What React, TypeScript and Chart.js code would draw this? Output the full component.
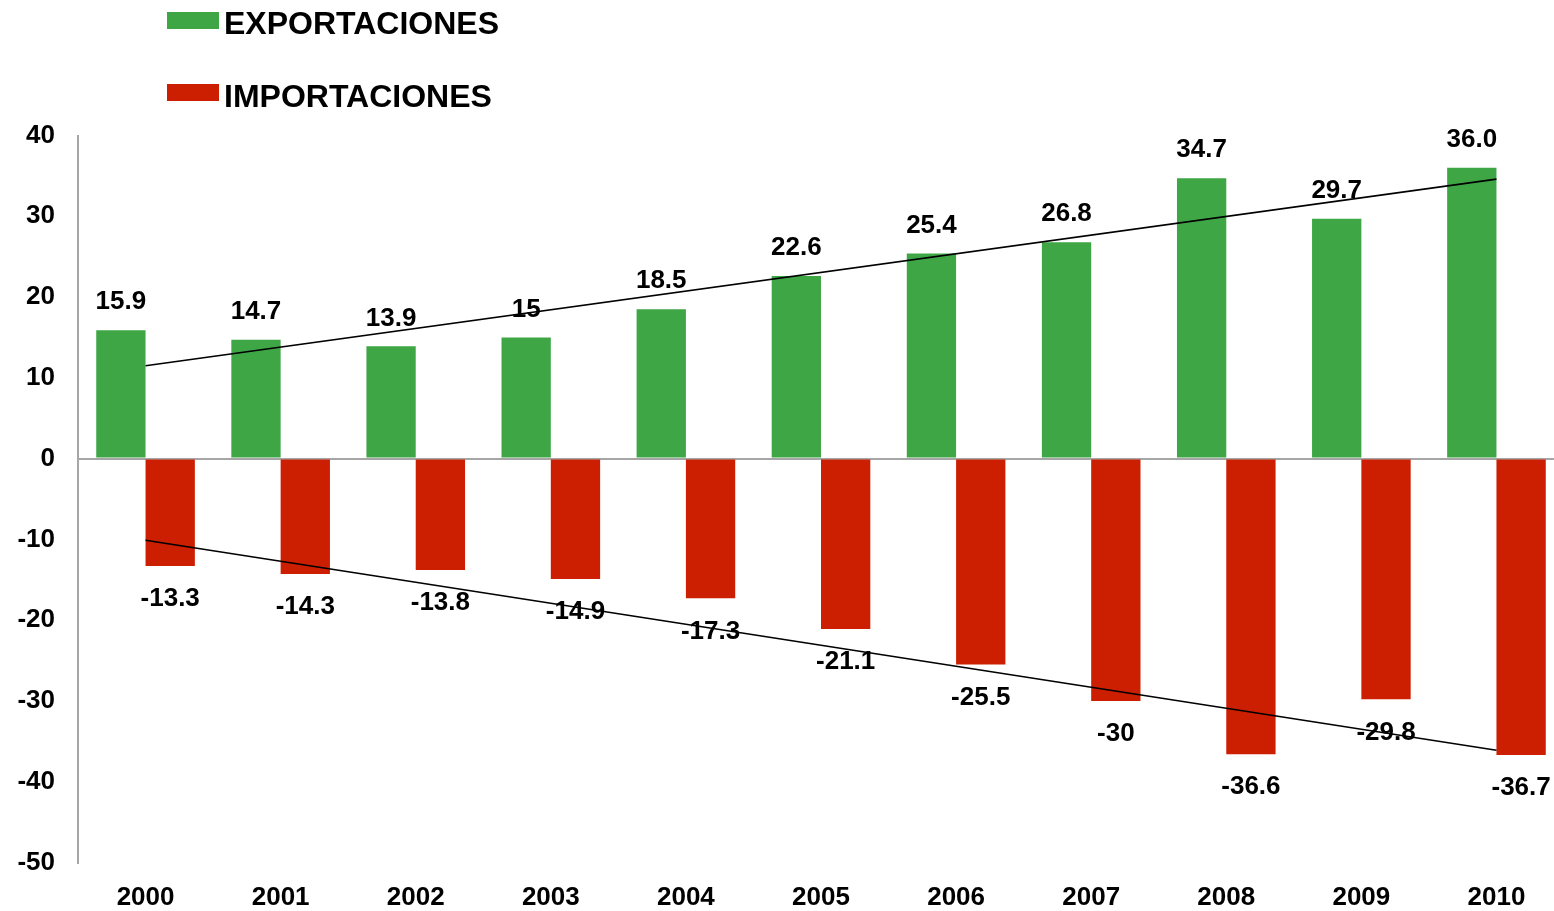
import React, { useEffect, useRef } from "react";
import { Chart, registerables } from "chart.js";

Chart.register(...registerables);

const years = ["2000", "2001", "2002", "2003", "2004", "2005", "2006", "2007", "2008", "2009", "2010"];
const exportaciones = [15.9, 14.7, 13.9, 15, 18.5, 22.6, 25.4, 26.8, 34.7, 29.7, 36.0];
const importaciones = [-13.3, -14.3, -13.8, -14.9, -17.3, -21.1, -25.5, -30, -36.6, -29.8, -36.7];
const exportLabels = ["15.9", "14.7", "13.9", "15", "18.5", "22.6", "25.4", "26.8", "34.7", "29.7", "36.0"];
const importLabels = ["-13.3", "-14.3", "-13.8", "-14.9", "-17.3", "-21.1", "-25.5", "-30", "-36.6", "-29.8", "-36.7"];
// trend line end points
const exportTrend = [11.5, null, null, null, null, null, null, null, null, null, 34.6];
const importTrend = [-10.1, null, null, null, null, null, null, null, null, null, -36.1];
const yMin = -50;
const yMax = 40;
const yStep = 10;

const GREEN = "#3EA645";
const RED = "#CC1E00";
const GRAY = "#A6A6A6";
const FONT = "'Liberation Sans', Arial, sans-serif";

const labelPlugin = {
  id: "barValueLabels",
  afterDatasetsDraw(chart: any) {
    const ctx = chart.ctx;
    ctx.save();
    ctx.font = `bold 26px ${FONT}`;
    ctx.fillStyle = "#000";
    ctx.textAlign = "center";
    ctx.textBaseline = "middle";
    const m0 = chart.getDatasetMeta(0);
    m0.data.forEach((bar: any, i: number) => {
      ctx.fillText(exportLabels[i], bar.x, bar.y - 28);
    });
    const m1 = chart.getDatasetMeta(1);
    m1.data.forEach((bar: any, i: number) => {
      ctx.fillText(importLabels[i], bar.x, bar.y + 33);
    });
    ctx.restore();
  },
};

export default function App() {
  const ref = useRef<HTMLCanvasElement | null>(null);

  useEffect(() => {
    if (!ref.current) return;
    const chart = new Chart(ref.current, {
      type: "bar",
      data: {
        labels: years,
        datasets: [
          {
            type: "bar",
            label: "EXPORTACIONES",
            data: exportaciones,
            backgroundColor: GREEN,
            categoryPercentage: 0.73,
            barPercentage: 1,
            order: 1,
          },
          {
            type: "bar",
            label: "IMPORTACIONES",
            data: importaciones,
            backgroundColor: RED,
            categoryPercentage: 0.73,
            barPercentage: 1,
            order: 1,
          },
          {
            type: "line",
            label: "Tendencia exportaciones",
            data: exportTrend,
            borderColor: "#000",
            borderWidth: 1.6,
            pointRadius: 0,
            spanGaps: true,
            order: 0,
          },
          {
            type: "line",
            label: "Tendencia importaciones",
            data: importTrend,
            borderColor: "#000",
            borderWidth: 1.6,
            pointRadius: 0,
            spanGaps: true,
            order: 0,
          },
        ] as any,
      },
      options: {
        animation: false,
        responsive: false,
        layout: { padding: { top: 135.5, left: 0, right: 0, bottom: 0 } },
        plugins: {
          legend: { display: false },
          tooltip: { enabled: false },
        },
        scales: {
          x: {
            grid: { display: false, drawTicks: false },
            border: { display: false },
            ticks: {
              color: "#000",
              font: { family: FONT, size: 26, weight: "bold" },
              padding: 20,
              maxRotation: 0,
              autoSkip: false,
            },
            afterFit: (s: any) => {
              s.height = 48.5;
            },
          },
          y: {
            min: yMin,
            max: yMax,
            grid: {
              drawTicks: false,
              lineWidth: 2,
              color: (c: any) => (c.tick && c.tick.value === 0 ? GRAY : "rgba(0,0,0,0)"),
            },
            border: { display: true, color: GRAY, width: 2 },
            ticks: {
              stepSize: yStep,
              color: "#000",
              font: { family: FONT, size: 26, weight: "bold" },
              padding: 23,
            },
            afterFit: (s: any) => {
              s.width = 78;
            },
          },
        },
      } as any,
      plugins: [labelPlugin],
    });
    return () => chart.destroy();
  }, []);

  const legendText: React.CSSProperties = {
    position: "absolute",
    left: 224,
    fontFamily: FONT,
    fontWeight: "bold",
    fontSize: 32,
    lineHeight: "36px",
    color: "#000",
    whiteSpace: "nowrap",
  };

  return (
    <div
      style={{
        position: "absolute",
        left: 0,
        top: 0,
        width: 1554,
        height: 911,
        overflow: "hidden",
        background: "#fff",
      }}
    >
      <canvas ref={ref} width={1564} height={911} style={{ display: "block", width: 1564, height: 911 }} />
      <div style={{ position: "absolute", left: 167, top: 12, width: 52, height: 17, background: GREEN }} />
      <div style={{ ...legendText, top: 5 }}>EXPORTACIONES</div>
      <div style={{ position: "absolute", left: 167, top: 84, width: 52, height: 17, background: RED }} />
      <div style={{ ...legendText, top: 78 }}>IMPORTACIONES</div>
    </div>
  );
}
